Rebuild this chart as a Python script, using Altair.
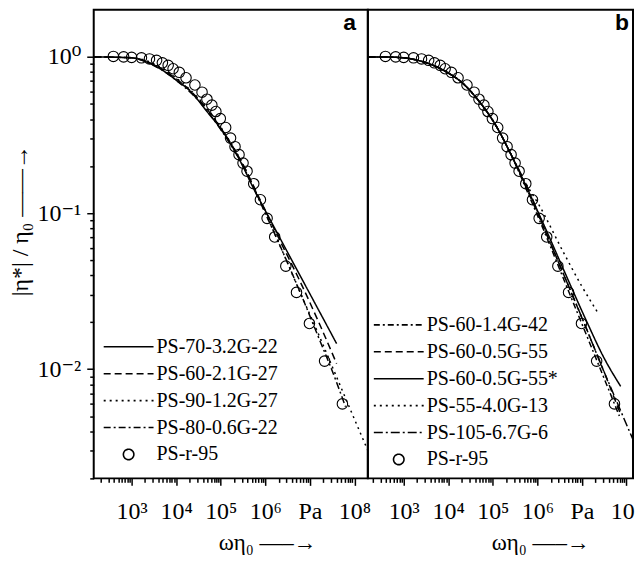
import altair as alt
import pandas as pd

SERIF = "Liberation Serif, DejaVu Serif, serif"
SANS = "Liberation Sans, Arial, sans-serif"

# ---------------- data (log10 values) ----------------
# PS-r-95 reference points: log10(omega*eta0 / Pa), log10(|eta*|/eta0)
ref_lx = [2.59, 2.82, 3.00, 3.22, 3.40, 3.56, 3.69, 3.82, 3.93, 4.07,
          4.22, 4.42, 4.58, 4.69, 4.80, 4.89, 4.99, 5.11, 5.22, 5.32,
          5.41, 5.50, 5.59, 5.74, 5.89, 6.04, 6.21, 6.46, 6.70, 6.99,
          7.33, 7.73]
ref_ly = [0.003, 0.0, -0.003, -0.006, -0.013, -0.022, -0.038, -0.054, -0.076, -0.099,
          -0.134, -0.180, -0.226, -0.271, -0.309, -0.350, -0.395, -0.452, -0.520, -0.575,
          -0.626, -0.680, -0.732, -0.812, -0.915, -1.034, -1.153, -1.340, -1.508, -1.707,
          -1.948, -2.222]

# panel a curves
a_solid_lx = [2.15, 2.6, 3.0, 3.31, 3.6, 3.8, 4.05, 4.25, 4.47, 4.69, 4.92, 5.14, 5.44, 5.73, 6.04, 6.6, 7.1, 7.6]
a_solid_ly = [0.0, -0.002, -0.006, -0.03, -0.07, -0.106, -0.16, -0.202, -0.27, -0.35, -0.43, -0.52, -0.669, -0.839, -1.006, -1.305, -1.57, -1.836]
a_dash_lx = [2.15, 3.0, 3.5, 4.0, 4.5, 5.0, 5.5, 5.9, 6.3, 6.8, 7.2, 7.6]
a_dash_ly = [0.0, -0.006, -0.05, -0.14, -0.27, -0.455, -0.69, -0.925, -1.16, -1.45, -1.70, -1.964]
a_dot_lx = [2.15, 3.0, 3.5, 4.0, 4.5, 5.0, 5.5, 5.9, 6.3, 6.8, 7.2, 7.6, 8.0, 8.3]
a_dot_ly = [0.0, -0.005, -0.045, -0.135, -0.265, -0.45, -0.69, -0.935, -1.19, -1.52, -1.78, -2.05, -2.32, -2.52]
a_dd_lx = [2.15, 3.0, 3.5, 4.0, 4.5, 5.0, 5.5, 5.9, 6.3, 6.8, 7.2, 7.5, 7.8]
a_dd_ly = [0.0, -0.006, -0.055, -0.15, -0.28, -0.465, -0.70, -0.94, -1.19, -1.52, -1.80, -2.01, -2.24]

# panel b curves (shared low-frequency part, then individual tails)
b_head_lx = [2.19, 2.6, 3.0, 3.21, 3.58, 3.96, 4.33, 4.70, 5.07, 5.4]
b_head_ly = [0.0, -0.001, -0.006, -0.015, -0.045, -0.096, -0.17, -0.287, -0.44, -0.62]
b_dd1_lx = [5.8, 6.2, 6.6, 7.1, 7.5, 7.84]
b_dd1_ly = [-0.88, -1.15, -1.43, -1.78, -2.06, -2.30]
b_dash_lx = [5.8, 6.2, 6.6, 7.1, 7.5, 7.87]
b_dash_ly = [-0.87, -1.13, -1.40, -1.74, -2.02, -2.29]
b_solid_lx = [5.8, 6.2, 6.6, 7.1, 7.5, 7.87]
b_solid_ly = [-0.86, -1.11, -1.37, -1.69, -1.93, -2.11]
b_dot_lx = [5.7, 6.04, 6.6, 7.0, 7.35]
b_dot_ly = [-0.79, -0.95, -1.26, -1.47, -1.635]
b_dd2_lx = [5.8, 6.2, 6.6, 7.0, 7.4, 7.8, 8.28]
b_dd2_ly = [-0.85, -1.13, -1.40, -1.67, -1.95, -2.22, -2.54]

a_names = ["PS-70-3.2G-22", "PS-60-2.1G-27", "PS-90-1.2G-27", "PS-80-0.6G-22", "PS-r-95"]
b_names = ["PS-60-1.4G-42", "PS-60-0.5G-55", "PS-60-0.5G-55*", "PS-55-4.0G-13", "PS-105-6.7G-6", "PS-r-95"]

SOLID, DASH, DOT = [1, 0], [7, 4], [2, 4]
DASHDOT, DASHDOT_S, DASHDOT_L = [7, 3, 2, 3], [6, 3, 2, 3], [9, 3, 2, 3]
a_dashes = [SOLID, DASH, DOT, DASHDOT, SOLID]
b_dashes = [DASHDOT_S, DASH, SOLID, DOT, DASHDOT_L, SOLID]
CIRCLE = "M-0.21,0A0.21,0.21 0 1,1 0.21,0A0.21,0.21 0 1,1 -0.21,0Z"
a_shapes = ["stroke"] * 4 + [CIRCLE]
b_shapes = ["stroke"] * 5 + [CIRCLE]

x_major = [1e3, 1e4, 1e5, 1e6, 1e7, 1e8]
x_major_labels = ["10³", "10⁴", "10⁵", "10⁶", "Pa", "10⁸"]
y_major = [1e-2, 1e-1, 1e0]
y_major_labels = ["10⁻²", "10⁻¹", "10⁰"]
x_all_ticks = [m * 10.0 ** e for e in range(2, 9) for m in range(1, 10)]
y_all_ticks = [m * 10.0 ** e for e in range(-3, 1) for m in range(1, 10)]

xa_dom = [141, 2.0e8]
xb_dom = [157, 1.40e8]
y_dom = [0.002, 2]


def inside(ticks, dom):
    return [t for t in ticks if dom[0] * 1.001 < t < dom[1] * 0.999]


def frame(name, lx, ly):
    return pd.DataFrame({"series": name, "x": [10 ** v for v in lx],
                         "y": [10 ** v for v in ly], "k": list(range(len(lx)))})


df_ref = frame("PS-r-95", ref_lx, ref_ly)
df_a = pd.concat([
    frame(a_names[0], a_solid_lx, a_solid_ly),
    frame(a_names[1], a_dash_lx, a_dash_ly),
    frame(a_names[2], a_dot_lx, a_dot_ly),
    frame(a_names[3], a_dd_lx, a_dd_ly),
])
df_b = pd.concat([
    frame(b_names[0], b_head_lx + b_dd1_lx, b_head_ly + b_dd1_ly),
    frame(b_names[1], b_head_lx + b_dash_lx, b_head_ly + b_dash_ly),
    frame(b_names[2], b_head_lx + b_solid_lx, b_head_ly + b_solid_ly),
    frame(b_names[3], b_head_lx + b_dot_lx, b_head_ly + b_dot_ly),
    frame(b_names[4], b_head_lx + b_dd2_lx, b_head_ly + b_dd2_ly),
])


def label_expr(values, labels):
    expr = "''"
    for v, lab in zip(values, labels):
        expr = f"abs(datum.value - {v!r}) < {v * 1e-6!r} ? '{lab}' : ({expr})"
    return expr


MAJOR = "abs(log(datum.value)/LN10 - round(log(datum.value)/LN10)) < 0.001"
TICK_SIZE = {"condition": {"test": MAJOR, "value": 7}, "value": 4}


def x_axis(dom, title_x):
    return alt.Axis(values=inside(x_all_ticks, dom), labelExpr=label_expr(x_major, x_major_labels),
                    tickSize=TICK_SIZE, tickWidth=1.5, tickColor="black",
                    domain=False, grid=False, labelFont=SERIF, labelFontSize=24,
                    labelColor="black", labelPadding=33, labelBaseline="alphabetic",
                    labelOverlap=False, labelFlush=False, labelAngle=0,
                    title="ωη₀  —–→", titleFont=SERIF, titleFontSize=23,
                    titleFontWeight="normal", titleColor="black",
                    titleX=title_x, titleY=71, titleAlign="center",
                    titleBaseline="alphabetic")


y_axis = alt.Axis(values=inside(y_all_ticks, y_dom) + [0.002], labelExpr=label_expr(y_major, y_major_labels),
                  tickSize=TICK_SIZE, tickWidth=1.5, tickColor="black",
                  domain=False, grid=False, labelFont=SERIF, labelFontSize=24,
                  labelColor="black", labelPadding=6, labelBaseline="middle",
                  labelOverlap=False, labelFlush=False,
                  title="|η*| / η₀ ——→", titleFont=SERIF, titleFontSize=24,
                  titleFontWeight="normal", titleColor="black",
                  titleAngle=270, titleX=-73, titleY=211, titleAlign="center",
                  titleBaseline="middle")


def legend(lx, ly):
    return alt.Legend(orient="none", legendX=lx, legendY=ly, title=None,
                      labelFont=SERIF, labelFontSize=20, labelColor="black",
                      labelLimit=400, clipHeight=20, rowPadding=7,
                      symbolSize=2500, symbolStrokeWidth=1.6,
                      symbolStrokeColor="black", symbolFillColor="transparent",
                      labelOffset=2, padding=0, symbolOffset=0)


def panel(df_lines, names, dashes, shapes, xdom, xaxis, yaxis, leg, letter, letter_x, width):
    xs = alt.Scale(type="log", domain=xdom, nice=False)
    ys = alt.Scale(type="log", domain=y_dom, nice=False)
    lines = alt.Chart(df_lines).mark_line(strokeWidth=1.5, color="black",
                                          interpolate="monotone", clip=True).encode(
        x=alt.X("x:Q", scale=xs, axis=xaxis),
        y=alt.Y("y:Q", scale=ys, axis=yaxis),
        strokeDash=alt.StrokeDash("series:N", scale=alt.Scale(domain=names, range=dashes), legend=leg),
        order="k:Q",
    )
    pts = alt.Chart(df_ref).mark_point(size=2500, filled=False, color="black",
                                       strokeWidth=1.1, opacity=1, clip=True).encode(
        x=alt.X("x:Q", scale=xs),
        y=alt.Y("y:Q", scale=ys),
        shape=alt.Shape("series:N", scale=alt.Scale(domain=names, range=shapes), legend=leg),
    )
    lab = alt.Chart(pd.DataFrame({"t": [letter]})).mark_text(
        font=SANS, fontSize=23, fontWeight="bold", align="right", clip=True,
        baseline="alphabetic", color="black").encode(
        text="t:N", x=alt.value(letter_x), y=alt.value(20))
    return alt.layer(lines, pts, lab).properties(width=width, height=470)


panel_a = panel(df_a, a_names, a_dashes, a_shapes, xa_dom, x_axis(xa_dom, 174), y_axis,
                legend(9, 328), "a", 263, 275)
panel_b = panel(df_b, b_names, b_dashes, b_shapes, xb_dom, x_axis(xb_dom, 173), None,
                legend(5, 306), "b", 262, 266)

chart = alt.hconcat(panel_a, panel_b, spacing=0, bounds="flush").resolve_scale(
    x="independent", y="independent", strokeDash="independent", shape="independent"
).resolve_legend(strokeDash="independent", shape="independent").properties(
    padding={"left": 0, "top": 0, "right": -9, "bottom": 0}
).configure_view(stroke="black", strokeWidth=2)

chart.save("out.html", embed_options={"renderer": "svg", "actions": False})
